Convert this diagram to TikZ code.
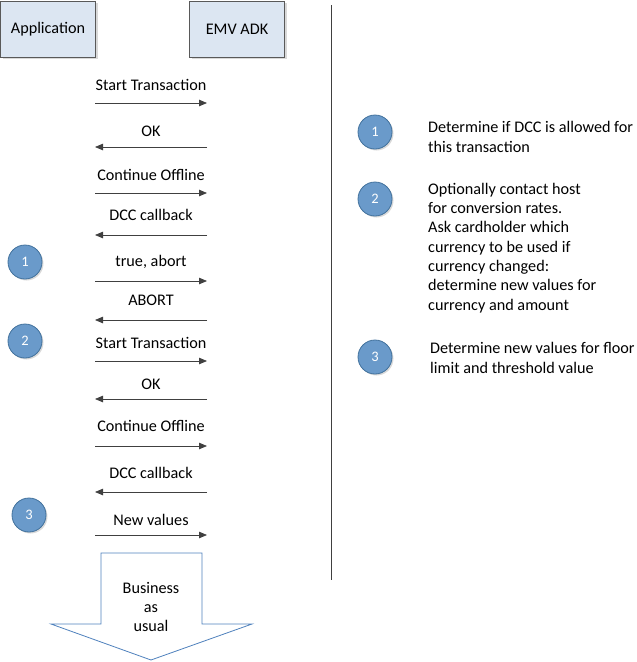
\documentclass[tikz,border=0pt]{standalone}
\usepackage{fontspec}
\setmainfont{Carlito}
\usetikzlibrary{arrows.meta,positioning,shadows}
\definecolor{partyfill}{HTML}{DCE6F2}
\definecolor{partyedge}{HTML}{595959}
\definecolor{stepfill}{HTML}{6A9ACA}
\definecolor{stepedge}{HTML}{41719C}
\definecolor{msgline}{HTML}{404040}
\definecolor{flowedge}{HTML}{4F81BD}

\tikzset{
  party/.style={draw=partyedge, fill=partyfill, minimum width=95pt, minimum height=56pt,
    inner sep=0pt, drop shadow={shadow xshift=2pt, shadow yshift=-2pt, opacity=.3}},
  stepmark/.style={circle, draw=stepedge, line width=0.8pt, fill=stepfill, text=white,
    minimum size=34pt, inner sep=0pt, font=\fontsize{14.5}{17}\selectfont,
    drop shadow={shadow xshift=1.5pt, shadow yshift=-1.5pt, opacity=.3}},
  msg/.style={draw=msgline, line width=0.8pt, -{Triangle[length=8pt,width=6.5pt]}},
  % base of a multi-line node is the baseline of its last line
  note/.style={anchor=base west, align=left, inner sep=0pt},
}

\begin{document}
\begin{tikzpicture}[x=1pt, y=-1pt, font=\fontsize{16.2}{19.3}\selectfont]
  \useasboundingbox (0,0) rectangle (637,662);
  % Participants
  \node[party] (app) at (48,29) {Application};
  \node[party] (adk) at (237,29) {EMV ADK};
  % Separator
  \coordinate (sepTop) at (331,5);
  \coordinate (sepBot) at (331,580);
  \draw[msgline, line width=0.8pt] (sepTop) -- (sepBot);
  % Messages: label y / arrow y / direction / text
  \foreach \i/\ly/\ay/\dir/\txt in {
      1/85/103/R/Start Transaction,
      2/131/147/L/OK,
      3/175/193/R/Continue Offline,
      4/215/235/L/DCC callback,
      5/262/281/R/{true, abort},
      6/300/320/L/ABORT,
      7/343/361/R/Start Transaction,
      8/384/399/L/OK,
      9/426/446/R/Continue Offline,
      10/473/492/L/DCC callback,
      11/520/535/R/New values} {
    \node (lbl\i) at (151,\ly) {\txt};
    \coordinate (a\i) at (95,\ay);
    \coordinate (b\i) at (207,\ay);
    \if\dir R
      \draw[msg] (a\i) -- (b\i);
    \else
      \draw[msg] (b\i) -- (a\i);
    \fi
  }
  % Step marks on the left
  \node[stepmark] (s1) at (25,262) {1};
  \node[stepmark] (s2) at (25,341) {2};
  \node[stepmark] (s3) at (29,515) {3};
  % Explanations on the right
  \node[stepmark] (e1) at (375,132) {1};
  \node[stepmark] (e2) at (375,199) {2};
  \node[stepmark] (e3) at (375,357) {3};
  \node[note] (n1) at (428,152) {Determine if DCC is allowed for\\this transaction};
  \node[note] (n2) at (428,310) {Optionally contact host\\for conversion rates.\\Ask cardholder which\\currency to be used if\\currency changed:\\determine new values for\\currency and amount};
  \node[note] (n3) at (430,373) {Determine new values for floor\\limit and threshold value};
  % Business as usual
  \coordinate (f1) at (101,553);
  \coordinate (f2) at (202,553);
  \coordinate (f3) at (202,624);
  \coordinate (f4) at (252,624);
  \coordinate (f5) at (151,660);
  \coordinate (f6) at (51,624);
  \coordinate (f7) at (101,624);
  \draw[flowedge, fill=white, line width=0.8pt] (f1) -- (f2) -- (f3) -- (f4) -- (f5) -- (f6) -- (f7) -- cycle;
  \node[align=center, inner sep=0pt] (bau) at (151,607) {Business\\as\\usual};
\end{tikzpicture}
\end{document}
